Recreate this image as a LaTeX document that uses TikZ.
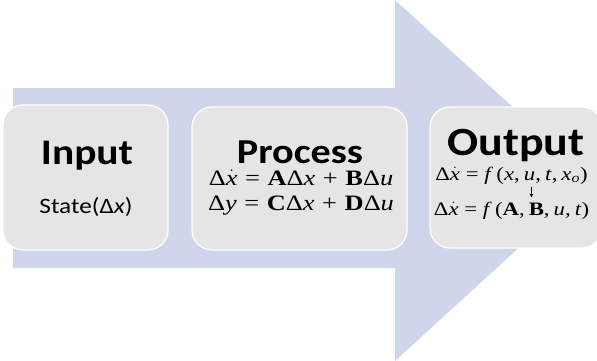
\documentclass[tikz,border=0pt]{standalone}
\usepackage{fontspec}
\setmainfont{Carlito}[FakeStretch=1.15]
\newfontfamily\eqfont{Liberation Serif}[FakeStretch=1.2]
\usepackage{xcolor}
\usetikzlibrary{arrows.meta, positioning, calc}
\definecolor{flowblue}{RGB}{207,213,234}
\definecolor{boxgray}{RGB}{229,229,229}
\newcommand{\xdot}{$\dot{\hbox{\itshape x}}$}
\newcommand{\eqsign}{\hspace{1pt} = \hspace{1pt}}
\newcommand{\plussign}{\hspace{1pt} + \hspace{1pt}}
\newcommand{\cgap}{,\hspace{4pt}}

\begin{document}
\begin{tikzpicture}[x=1pt, y=-1pt,
    stagebox/.style={rectangle, draw=white, line width=1.2pt, fill=boxgray, rounded corners=20pt, inner sep=0pt},
    title/.style={anchor=base, inner sep=0pt, font=\fontsize{35}{40}\selectfont\bfseries},
    eq/.style={anchor=base, inner sep=0pt, font=\eqfont\fontsize{22}{26}\selectfont},
    smalleq/.style={anchor=base, inner sep=0pt, font=\eqfont\fontsize{19}{22}\selectfont}]
    \useasboundingbox (0,0) rectangle (597,361);
    % big arrow behind the boxes
    \fill[flowblue] (13,88) -- (395,88) -- (395,0) -- (593,180) -- (395,361) -- (395,268) -- (13,268) -- cycle;
    % the three stages
    \node[stagebox, minimum width=165pt, minimum height=145pt] (inbox) at (85.5,177.5) {};
    \node[stagebox, minimum width=215pt, minimum height=143pt] (procbox) at (299.5,178.5) {};
    \node[stagebox, minimum width=172pt, minimum height=141pt] (outbox) at (516,177.5) {};
    % input
    \node[title, font=\fontsize{36}{40}\selectfont\bfseries] (intitle) at (87,164) {Input};
    \node[anchor=base, inner sep=0pt, font=\fontsize{22}{26}\selectfont] (instate) at (86,213) {State(Δ\textit{x})};
    % process
    \node[title] (proctitle) at (300,163) {Process};
    \node[eq] (proceq1) at (301,185) {Δ\xdot\eqsign\textbf{A}Δ\textit{x}\plussign\textbf{B}Δ\textit{u}};
    \node[eq] (proceq2) at (301,210) {Δ\textit{y}\eqsign\textbf{C}Δ\textit{x}\plussign\textbf{D}Δ\textit{u}};
    % output
    \node[title, font=\fontsize{40}{44}\selectfont\bfseries] (outtitle) at (516,155) {Output};
    \node[smalleq] (outeq1) at (511.5,180) {Δ\xdot{} = \textit{f}\,(\textit{x}\cgap\textit{u}\cgap\textit{t}\cgap\textit{x}\textsubscript{\textit{o}})};
    \node[smalleq] (outeq2) at (511.5,215) {Δ\xdot{} = \textit{f}\,(\textbf{A}\cgap\textbf{B}\cgap\textit{u}\cgap\textit{t})};
    \draw[-{Stealth[length=4pt, width=4pt]}, line width=0.7pt, shorten <=3pt, shorten >=4pt]
        ([xshift=20pt]outeq1.south) -- ([xshift=20pt]outeq2.north);
\end{tikzpicture}
\end{document}
